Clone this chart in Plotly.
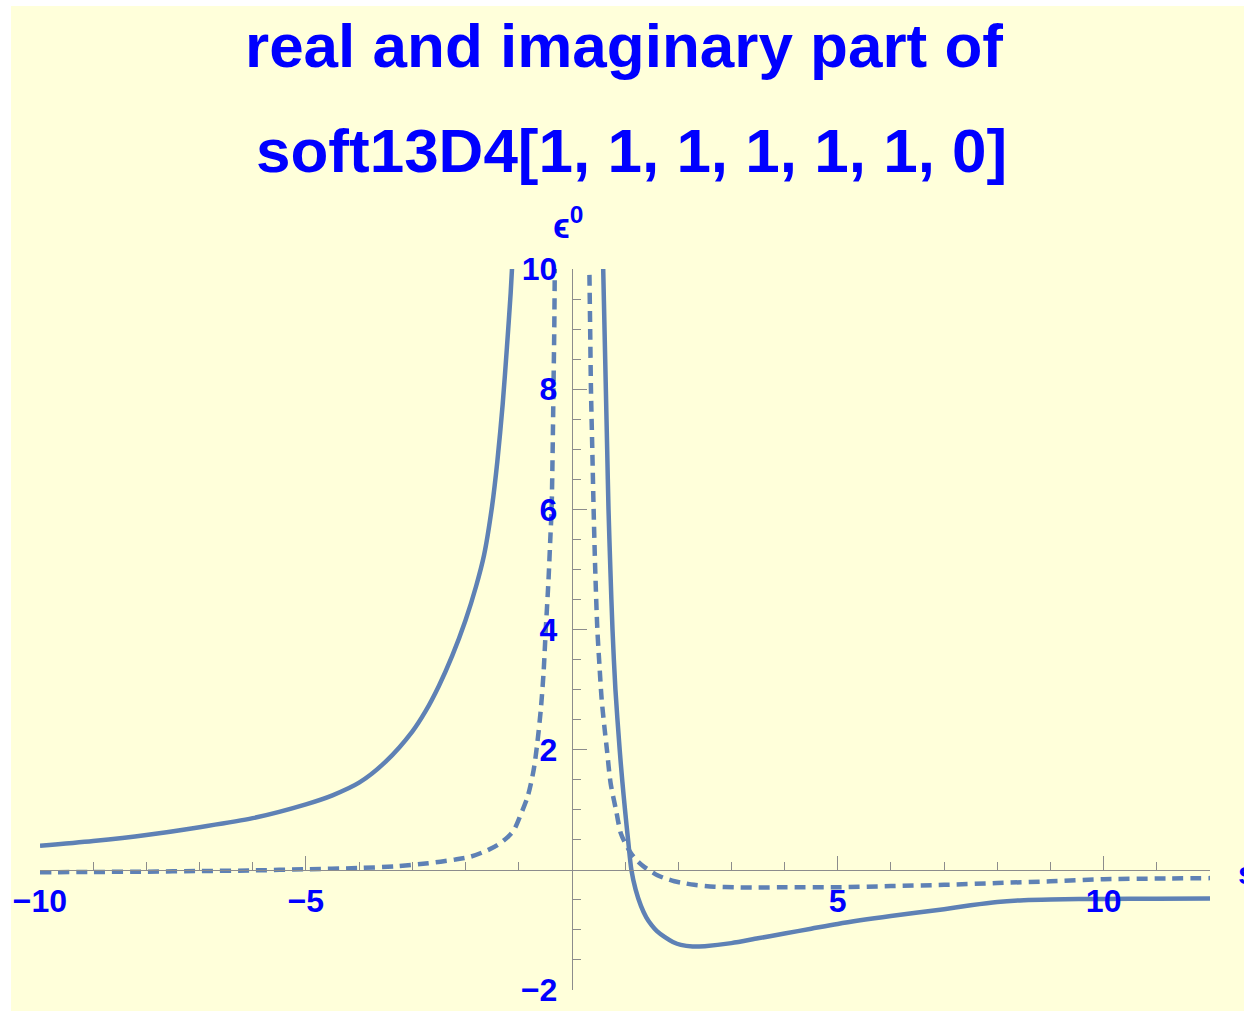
import plotly.graph_objects as go

# ---- real part (solid curve), two branches around the pole ----
re_left_s = [-10, -9, -8, -7, -6, -5, -4.5, -4, -3.5, -3, -2.75, -2.5, -2.25, -2.0, -1.8,
             -1.65, -1.5, -1.4, -1.3, -1.22, -1.15, -1.1]
re_left_v = [0.40, 0.48, 0.58, 0.71, 0.86, 1.09, 1.24, 1.45, 1.80, 2.30, 2.64, 3.06, 3.56, 4.15, 4.72,
             5.24, 6.05, 6.80, 7.75, 8.70, 9.60, 10.40]

re_right_s = [0.575, 0.59, 0.615, 0.64, 0.665, 0.69, 0.725, 0.765, 0.82, 0.90, 0.95, 1.0,
              1.06, 1.12, 1.2, 1.3, 1.4, 1.5, 1.6, 1.75, 1.9, 2.05, 2.27, 2.5, 3.0, 3.5,
              4.0, 4.5, 5.0, 6.0, 7.0, 7.5, 8.0, 8.5, 9.0, 10.0, 11.0, 12.0]
re_right_v = [10.6, 10.0, 9.0, 8.0, 7.0, 6.0, 5.0, 4.0, 3.0, 2.0, 1.47, 1.0,
              0.48, 0.0, -0.33, -0.60, -0.79, -0.92, -1.02, -1.12, -1.20, -1.25, -1.277, -1.27,
              -1.22, -1.14, -1.06, -0.98, -0.90, -0.77, -0.655, -0.59, -0.535, -0.505, -0.493,
              -0.484, -0.48, -0.477]

# ---- imaginary part (dashed curve) ----
im_left_s = [-10, -9, -8, -7, -6, -5, -4, -3.3, -2.7, -2.2, -1.9, -1.6, -1.4, -1.2, -1.09,
             -0.96, -0.83, -0.72, -0.65, -0.58, -0.53, -0.49, -0.44, -0.40, -0.38, -0.36,
             -0.345, -0.33, -0.32, -0.31]
im_left_v = [-0.04, -0.035, -0.03, -0.02, -0.01, 0.01, 0.03, 0.06, 0.11, 0.17, 0.22, 0.32,
             0.41, 0.55, 0.66, 0.92, 1.22, 1.65, 2.1, 2.7, 3.3, 4.0, 4.8, 5.6, 6.0, 7.0,
             8.0, 9.0, 10.0, 10.8]

im_right_s = [0.32, 0.33, 0.345, 0.36, 0.385, 0.41, 0.44, 0.48, 0.52, 0.56, 0.61, 0.66,
              0.73, 0.83, 0.92, 1.0, 1.11, 1.23, 1.36, 1.5, 1.61, 1.75, 1.93, 2.1, 2.3,
              2.68, 3.06, 3.5, 4.0, 5.0, 6.0, 7.0, 8.0, 9.0, 10.0, 11.0, 12.0]
im_right_v = [10.8, 10.0, 9.0, 8.0, 7.0, 6.0, 5.0, 4.0, 3.4, 2.85, 2.4, 2.0,
              1.44, 1.0, 0.61, 0.45, 0.28, 0.15, 0.05, -0.03, -0.09, -0.14, -0.19, -0.22,
              -0.25, -0.28, -0.29, -0.295, -0.29, -0.29, -0.27, -0.25, -0.22, -0.19,
              -0.155, -0.145, -0.138]

# ---- axes ----
x_range = [-10, 12]
y_range = [-2, 10]
x_major = [-10, -5, 5, 10]
x_major_text = ["\u221210", "\u22125", "5", "10"]
y_major = [-2, 2, 4, 6, 8, 10]
y_major_text = ["\u22122", "2", "4", "6", "8", "10"]
x_minor = [v for v in range(-10, 13) if v % 5 != 0]
y_minor = [k / 2 for k in range(-4, 21) if k % 4 != 0]

title_lines = ["real and imaginary part of", "soft13D4[1, 1, 1, 1, 1, 1, 0]"]
x_label = "s"
y_label = "\u03f5<sup>0</sup>"

CURVE = "#5E81B5"
BLUE = "#0000FF"
AXIS = "#8C8C8C"
BG = "#FFFFDA"
FONT = "Liberation Sans, Arial, sans-serif"

W, H = 1244, 1011
L, R, T, B = 40, 34, 269, 21
PW, PH = W - L - R, H - T - B


def px_x(p):
    return (p - L) / PW


def px_y(p):
    return (H - B - p) / PH


fig = go.Figure()
fig.add_trace(go.Scatter(
    x=re_left_s + [None] + re_right_s,
    y=re_left_v + [None] + re_right_v,
    mode="lines", line=dict(color=CURVE, width=4.5, shape="spline", smoothing=0.8),
    hoverinfo="skip", showlegend=False))
fig.add_trace(go.Scatter(
    x=im_left_s + [None] + im_right_s,
    y=im_left_v + [None] + im_right_v,
    mode="lines",
    line=dict(color=CURVE, width=4.5, dash="11px,7px", shape="spline", smoothing=0.8),
    hoverinfo="skip", showlegend=False))

tick_font = dict(family=FONT, size=32, color=BLUE, weight="bold")

fig.update_layout(
    width=W, height=H, autosize=False,
    margin=dict(l=L, r=R, t=T, b=B, pad=0),
    paper_bgcolor=BG, plot_bgcolor=BG,
    showlegend=False,
    xaxis=dict(
        range=x_range, anchor="free", automargin=False,
        position=(0 - y_range[0]) / (y_range[1] - y_range[0]),
        showline=True, linecolor=AXIS, linewidth=1,
        showgrid=False, zeroline=False,
        tickmode="array", tickvals=x_major, ticktext=x_major_text,
        ticks="inside", ticklen=14, tickwidth=1, tickcolor=AXIS,
        tickfont=tick_font, ticklabelstandoff=3,
        minor=dict(tickmode="array", tickvals=x_minor, ticks="inside",
                   ticklen=8, tickwidth=1, tickcolor=AXIS, showgrid=False),
    ),
    yaxis=dict(
        range=y_range, anchor="free", automargin=False,
        position=(0 - x_range[0]) / (x_range[1] - x_range[0]),
        showline=True, linecolor=AXIS, linewidth=1,
        showgrid=False, zeroline=False,
        tickmode="array", tickvals=y_major, ticktext=y_major_text,
        ticks="inside", ticklen=14, tickwidth=1, tickcolor=AXIS,
        tickfont=tick_font, ticklabelstandoff=8,
        minor=dict(tickmode="array", tickvals=y_minor, ticks="inside",
                   ticklen=8, tickwidth=1, tickcolor=AXIS, showgrid=False),
    ),
)

title_font = dict(family=FONT, size=62, color=BLUE, weight="bold")
fig.add_annotation(text=title_lines[0], xref="paper", yref="paper",
                   x=px_x(624), y=px_y(46), xanchor="center", yanchor="middle",
                   showarrow=False, font=title_font)
fig.add_annotation(text=title_lines[1], xref="paper", yref="paper",
                   x=px_x(631), y=px_y(150), xanchor="center", yanchor="middle",
                   showarrow=False, font=title_font)
fig.add_annotation(text=x_label, xref="paper", yref="paper",
                   x=px_x(1236), y=px_y(873), xanchor="left", yanchor="middle",
                   showarrow=False, font=tick_font)
fig.add_annotation(text=y_label, xref="paper", yref="paper",
                   x=px_x(551), y=px_y(247), xanchor="left", yanchor="bottom",
                   showarrow=False, font=dict(family=FONT, size=35, color=BLUE, weight="bold"))

# white page border on the top and left edges
fig.add_shape(type="rect", xref="paper", yref="paper",
              x0=px_x(-5), x1=px_x(11), y0=px_y(H + 5), y1=px_y(-5),
              fillcolor="white", line=dict(width=0), layer="above")
fig.add_shape(type="rect", xref="paper", yref="paper",
              x0=px_x(-5), x1=px_x(W + 5), y0=px_y(6), y1=px_y(-5),
              fillcolor="white", line=dict(width=0), layer="above")

fig.write_html("out.html")
